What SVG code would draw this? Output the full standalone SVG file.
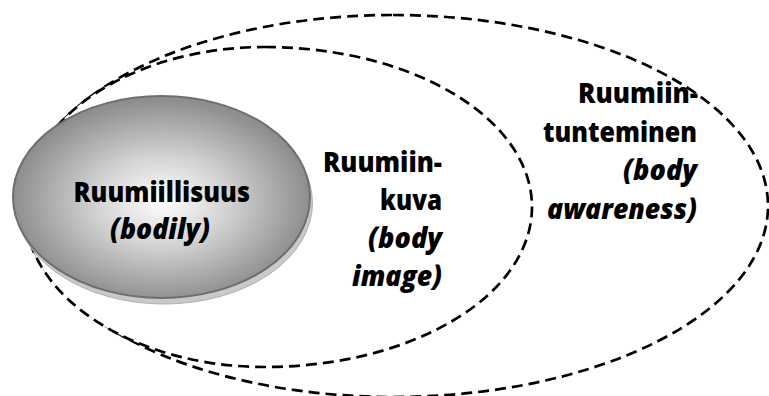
<svg xmlns="http://www.w3.org/2000/svg" width="769" height="396" viewBox="0 0 769 396">
  <defs>
    <radialGradient id="bodyFill" cx="0.5" cy="0.52" r="0.5">
      <stop offset="0" stop-color="#ffffff"/>
      <stop offset="0.45" stop-color="#d2d2d2"/>
      <stop offset="1" stop-color="#8e8e8e"/>
    </radialGradient>
    <style>
      .ring { fill: #ffffff; stroke: #000000; stroke-width: 2.7; stroke-dasharray: 11 6; }
      .lbl { font-family: "Open Sans", "Noto Sans", "Liberation Sans", sans-serif; font-weight: 800; font-size: 28px; fill: #000000; }
      .em { font-style: italic; }
    </style>
  </defs>

  <rect x="0" y="0" width="769" height="396" fill="#ffffff"/>

  <!-- outermost ring: body awareness (left half slightly narrower than right half) -->
  <g id="node-body-awareness">
    <path class="ring" d="M393,15 A375,191 0 0 1 768,206 A375,191 0 0 1 393,397 A369,191 0 0 1 24,206 A369,191 0 0 1 393,15 Z"/>
    <text class="lbl" x="578" y="103" textLength="120" lengthAdjust="spacingAndGlyphs">Ruumiin-</text>
    <text class="lbl" x="543" y="141.5" textLength="154" lengthAdjust="spacingAndGlyphs">tunteminen</text>
    <text class="lbl em" x="623" y="180" textLength="74" lengthAdjust="spacingAndGlyphs">(body</text>
    <text class="lbl em" x="547" y="218.5" textLength="150" lengthAdjust="spacingAndGlyphs">awareness)</text>
  </g>

  <!-- middle ring: body image -->
  <g id="node-body-image">
    <path class="ring" d="M265,47 A267,160 0 0 1 532,207 A267,160 0 0 1 265,367 A241,160 0 0 1 24,207 A241,160 0 0 1 265,47 Z"/>
    <text class="lbl" x="323" y="172" textLength="119" lengthAdjust="spacingAndGlyphs">Ruumiin-</text>
    <text class="lbl" x="380" y="210" textLength="62" lengthAdjust="spacingAndGlyphs">kuva</text>
    <text class="lbl em" x="368" y="248" textLength="74" lengthAdjust="spacingAndGlyphs">(body</text>
    <text class="lbl em" x="352" y="286" textLength="90" lengthAdjust="spacingAndGlyphs">image)</text>
  </g>

  <!-- core: bodily, shaded disc with a light extruded rim -->
  <g id="node-bodily">
    <ellipse cx="164" cy="203" rx="148.5" ry="101" fill="#c9c9c9" stroke="#b0b0b0" stroke-width="1"/>
    <ellipse cx="161.5" cy="197" rx="148.5" ry="101" fill="url(#bodyFill)" stroke="#6e6e6e" stroke-width="2"/>
    <text class="lbl" x="73.5" y="201.7" textLength="176.5" lengthAdjust="spacingAndGlyphs">Ruumiillisuus</text>
    <text class="lbl em" x="110" y="239" textLength="100" lengthAdjust="spacingAndGlyphs">(bodily)</text>
  </g>
</svg>
